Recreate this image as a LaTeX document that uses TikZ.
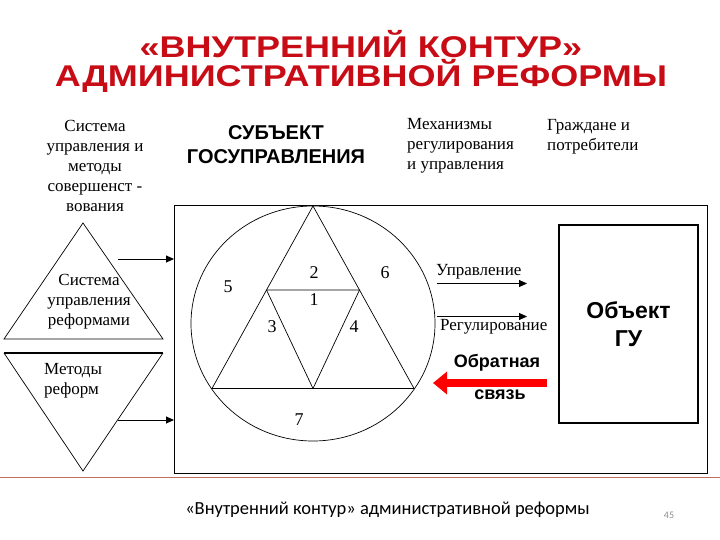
\documentclass[tikz,border=0pt]{standalone}
\usepackage{fontspec}
\setmainfont{Liberation Serif}
\newfontfamily\arialf{Liberation Sans}
\newfontfamily\arialwide[FakeStretch=1.2]{Liberation Sans}
\newfontfamily\calib{Carlito}
\usetikzlibrary{arrows.meta}
\definecolor{titlered}{RGB}{200,12,22}
\definecolor{linered}{RGB}{190,110,100}
\definecolor{numgray}{RGB}{140,140,140}
\begin{document}
\begin{tikzpicture}[x=1pt,y=-1pt,
  titlef/.style={font=\arialwide\bfseries\fontsize{30}{32}\selectfont, text=titlered, inner sep=0pt},
  serif/.style={font=\fontsize{17}{20}\selectfont, inner sep=0pt, align=center},
  serifl/.style={font=\fontsize{17}{20}\selectfont, inner sep=0pt, align=left},
  boldsans/.style={font=\arialf\bfseries\fontsize{20}{24}\selectfont, inner sep=0pt, align=center},
  fbsans/.style={font=\arialf\bfseries\fontsize{18}{20}\selectfont, inner sep=0pt},
  num/.style={font=\fontsize{18}{20}\selectfont, inner sep=0pt},
  thin/.style={line width=0.7pt},
  arr/.style={line width=1pt, -{Triangle[length=8pt,width=7pt]}},
]
\useasboundingbox (0,0) rectangle (720,540);

% title
\node[titlef] (t1) at (361,44) {«ВНУТРЕННИЙ КОНТУР»};
\node[titlef] (t2) at (361,76) {АДМИНИСТРАТИВНОЙ РЕФОРМЫ};

% top labels
\node[serif] (sys) at (95,166) {Система\\управления и\\методы\\совершенст -\\вования};
\node[boldsans] (subj) at (276,145) {СУБЪЕКТ\\ГОСУПРАВЛЕНИЯ};
\node[serifl, anchor=west] (mech) at (407,146) {Механизмы\\регулирования\\и управления};
\node[serifl, anchor=west] (citz) at (547,137) {Граждане и\\потребители};

% main frame
\draw[thin] (174,205) rectangle (707.5,473);

% left triangles
\draw[thin] (83,223) -- (4,339) -- (163,339) -- cycle;
\draw[thin] (4,353) -- (83,471) -- (163,353);
\draw[line width=1.4pt] (4,353) -- (163,353);
\node[serif] (sur) at (89,302) {Система\\управления\\реформами};
\node[serifl, anchor=west] (mr) at (44,381) {Методы\\реформ};
\coordinate (la1) at (118,259);
\coordinate (lb1) at (174,259);
\coordinate (la2) at (118,420);
\coordinate (lb2) at (174,420);
\draw[arr] (la1) -- (lb1);
\draw[arr] (la2) -- (lb2);

% circle and triangles
\draw[thin] (313,323.5) ellipse [x radius=122, y radius=117.5];
\coordinate (A) at (313,206);
\coordinate (B) at (212,388.5);
\coordinate (C) at (414,388.5);
\coordinate (P) at (266.5,290);
\coordinate (Q) at (359.5,290);
\coordinate (R) at (313,388.5);
\draw[thin] (A) -- (B) -- (C) -- cycle;
\draw[thin] (P) -- (Q) -- (R) -- cycle;
\node[num] (n2) at (314,273) {2};
\node[num] (n1) at (314,300) {1};
\node[num] (n5) at (228,287) {5};
\node[num] (n6) at (385,273) {6};
\node[num] (n3) at (272,327) {3};
\node[num] (n4) at (354,327) {4};
\node[num] (n7) at (299,420) {7};

% right side
\node[serif, anchor=west] (upr) at (436,272) {Управление};
\node[serif, anchor=west] (reg) at (440,327) {Регулирование};
\coordinate (ua) at (437,283.5);
\coordinate (ub) at (527,283.5);
\coordinate (ra) at (437,316.5);
\coordinate (rb) at (527,316.5);
\draw[arr] (ua) -- (ub);
\draw[arr] (ra) -- (rb);

\node[draw, line width=2pt, minimum width=139pt, minimum height=198pt, inner sep=0pt,
      font=\arialf\bfseries\fontsize{23}{28}\selectfont, align=center] (obj) at (628.5,324) {Объект\\ГУ};

\node[fbsans] (obr) at (497,363) {Обратная};
\node[fbsans] (svz) at (500,395) {связь};
\coordinate (fa) at (547,383);
\coordinate (fb) at (433,383);
\draw[red, line width=8pt, -{Triangle[length=14pt,width=22pt]}] (fa) -- (fb);

% footer
\draw[linered, line width=0.8pt] (0,477) -- (720,477);
\node[font=\calib\fontsize{18.5}{20}\selectfont, inner sep=0pt] (foot) at (387.5,510) {«Внутренний контур» административной реформы};
\node[font=\calib\fontsize{10}{12}\selectfont, text=numgray, inner sep=0pt] (pg) at (669,515) {45};
\end{tikzpicture}
\end{document}
